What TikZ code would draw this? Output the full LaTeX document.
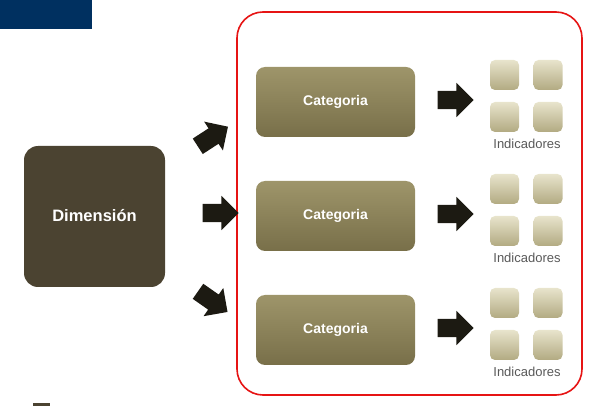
\documentclass[tikz,border=0pt]{standalone}
\usepackage{fontspec}
\setmainfont{Liberation Sans}
\usetikzlibrary{shapes.arrows}
\definecolor{navy}{RGB}{0,48,96}
\definecolor{dimc}{RGB}{75,67,49}
\definecolor{cattop}{RGB}{158,149,106}
\definecolor{catbot}{RGB}{120,111,73}
\definecolor{indtop}{RGB}{232,228,204}
\definecolor{indbot}{RGB}{178,170,130}
\definecolor{redline}{RGB}{230,20,20}
\definecolor{arrowc}{RGB}{28,26,18}
\tikzset{
  dimbox/.style={fill=dimc, rounded corners=14pt},
  dimtext/.style={text=white, inner sep=0pt, font=\bfseries\fontsize{16.5}{18}\selectfont},
  catbox/.style={top color=cattop, bottom color=catbot, draw=none, rounded corners=9pt},
  cattext/.style={text=white, inner sep=0pt, font=\bfseries\fontsize{14}{16}\selectfont},
  indbox/.style={top color=indtop, bottom color=indbot, draw=none, rounded corners=5pt, minimum width=29pt, minimum height=30pt, inner sep=0pt},
  indlabel/.style={text=black!65, font=\fontsize{13}{14}\selectfont, inner sep=0pt},
  blockarrow/.style={single arrow, fill=arrowc, draw=none, inner xsep=0pt, inner ysep=9pt, minimum height=36pt, single arrow head extend=8pt, single arrow head indent=0pt},
}
\begin{document}
\begin{tikzpicture}[x=1pt,y=-1pt]
\useasboundingbox (0,0) rectangle (595,406);
\fill[navy] (0,0) rectangle (92,29);
\fill[dimc] (33,403) rectangle (50,406);
% container
\draw[redline, line width=1.6pt, rounded corners=26pt] (237,12) rectangle (582,395);
% dimension
\path[dimbox] (24,146) rectangle (165,287);
\node[dimtext] (dim) at (94.5,216) {Dimensión};
% left arrows
\node[blockarrow, rotate=33] (a1) at (209,139) {};
\node[blockarrow] (a2) at (216,213) {};
\node[blockarrow, rotate=-35] (a3) at (209,299) {};
% categories
\foreach \i/\y in {1/0,2/114,3/228} {
  \path[catbox] (256,67+\y) rectangle (415,137+\y);
  \node[cattext] (cat\i) at (335.5,102+\y) {Categoria};
  \node[blockarrow] (b\i) at (451,100+\y) {};
  \node[indbox] (i\i a) at (504.5,75+\y) {};
  \node[indbox] (i\i b) at (548,75+\y) {};
  \node[indbox] (i\i c) at (504.5,117+\y) {};
  \node[indbox] (i\i d) at (548,117+\y) {};
  \node[indlabel] (l\i) at (527,144+\y) {Indicadores};
}
\end{tikzpicture}
\end{document}
